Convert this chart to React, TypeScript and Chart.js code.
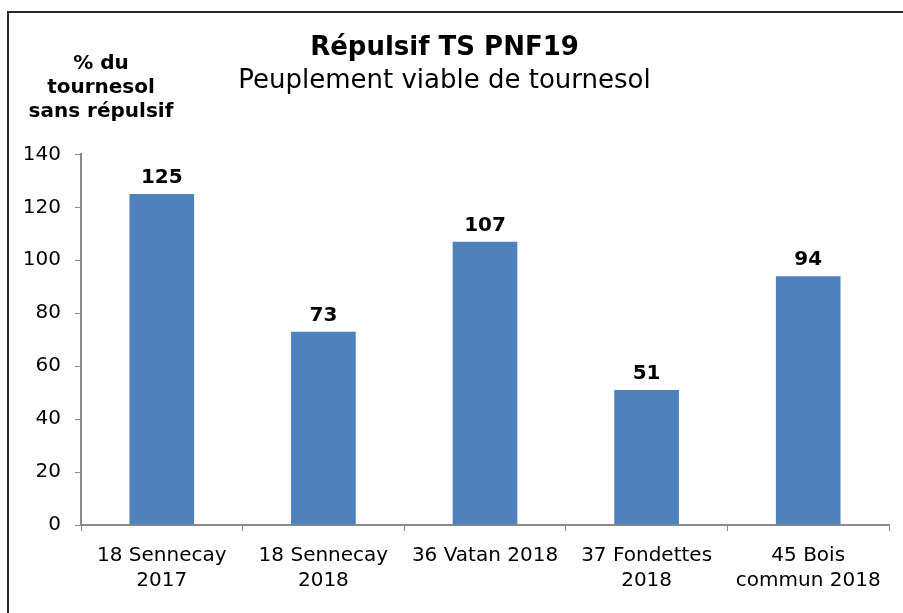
import React, { useEffect, useRef } from "react";
import { Chart, registerables } from "chart.js";

Chart.register(...registerables);

const categories: string[][] = [
  ["18 Sennecay", "2017"],
  ["18 Sennecay", "2018"],
  ["36 Vatan 2018"],
  ["37 Fondettes", "2018"],
  ["45 Bois", "commun 2018"],
];
const values: number[] = [125, 73, 107, 51, 94];
const titleText = "Répulsif TS PNF19";
const subtitleText = "Peuplement viable de tournesol";
const yTitleLines: string[] = ["% du", "tournesol", "sans répulsif"];

const FONT = "'DejaVu Sans', Verdana, sans-serif";
const AXIS_COLOR = "#8a8a8a";

export default function App() {
  const ref = useRef<HTMLCanvasElement | null>(null);

  useEffect(() => {
    if (!ref.current) return;
    const framePlugin = {
      id: "frame",
      beforeDraw(chart: any) {
        const ctx = chart.ctx;
        ctx.save();
        ctx.fillStyle = "#ffffff";
        ctx.fillRect(0, 0, chart.width, chart.height);
        ctx.strokeStyle = "#2a2a2a";
        ctx.lineWidth = 2;
        ctx.beginPath();
        ctx.moveTo(8, chart.height + 5);
        ctx.lineTo(8, 12);
        ctx.lineTo(chart.width + 5, 12);
        ctx.stroke();
        ctx.restore();
      },
      afterDraw(chart: any) {
        const ctx = chart.ctx;
        ctx.save();
        ctx.fillStyle = "#000";
        ctx.font = `bold 20px ${FONT}`;
        ctx.textAlign = "center";
        ctx.textBaseline = "alphabetic";
        yTitleLines.forEach((l, i) => ctx.fillText(l, 101, 69 + i * 24));
        ctx.restore();
      },
    };
    const labelPlugin = {
      id: "barLabels",
      afterDatasetsDraw(chart: any) {
        const ctx = chart.ctx;
        const meta = chart.getDatasetMeta(0);
        ctx.save();
        ctx.fillStyle = "#000";
        ctx.font = `bold 20px ${FONT}`;
        ctx.textAlign = "center";
        ctx.textBaseline = "alphabetic";
        meta.data.forEach((bar: any, i: number) => {
          ctx.fillText(String(values[i]), bar.x, bar.y - 11);
        });
        ctx.restore();
      },
    };
    const chart = new Chart(ref.current, {
      type: "bar",
      data: {
        labels: categories,
        datasets: [
          {
            data: values,
            backgroundColor: "#4F81BD",
            borderWidth: 0,
            categoryPercentage: 1,
            barPercentage: 0.4,
          },
        ],
      },
      options: {
        responsive: false,
        animation: false,
        layout: { padding: { left: 0, right: 14, top: 14, bottom: 0 } },
        plugins: {
          legend: { display: false },
          tooltip: { enabled: false },
          title: {
            display: true,
            text: titleText,
            color: "#000",
            font: { family: FONT, size: 26, weight: "bold", lineHeight: 1.2 },
            padding: { top: 19, bottom: 0 },
          },
          subtitle: {
            display: true,
            text: subtitleText,
            color: "#000",
            font: { family: FONT, size: 26, weight: "normal", lineHeight: 1.2 },
            padding: { top: 1, bottom: 58 },
          },
        },
        scales: {
          x: {
            grid: {
              display: true,
              drawOnChartArea: false,
              drawTicks: true,
              tickLength: 6,
              color: AXIS_COLOR,
              offset: true,
            },
            border: { display: true, color: AXIS_COLOR, width: 2 },
            ticks: {
              color: "#000",
              font: { family: FONT, size: 20, lineHeight: 1.25 },
              padding: 12,
              maxRotation: 0,
              autoSkip: false,
            },
            afterFit(scale: any) {
              scale.height = 88;
            },
          },
          y: {
            min: 0,
            max: 140,
            grid: {
              display: true,
              drawOnChartArea: false,
              drawTicks: true,
              tickLength: 6,
              color: AXIS_COLOR,
            },
            border: { display: true, color: AXIS_COLOR, width: 2 },
            ticks: {
              stepSize: 20,
              color: "#000",
              font: { family: FONT, size: 20 },
              padding: 14,
            },
            afterFit(scale: any) {
              scale.width = 81;
            },
          },
        },
      },
      plugins: [framePlugin, labelPlugin],
    });
    return () => chart.destroy();
  }, []);

  return (
    <div style={{ position: "absolute", left: 0, top: 0, width: 903, height: 613 }}>
      <canvas ref={ref} width={903} height={613} style={{ display: "block" }} />
    </div>
  );
}
